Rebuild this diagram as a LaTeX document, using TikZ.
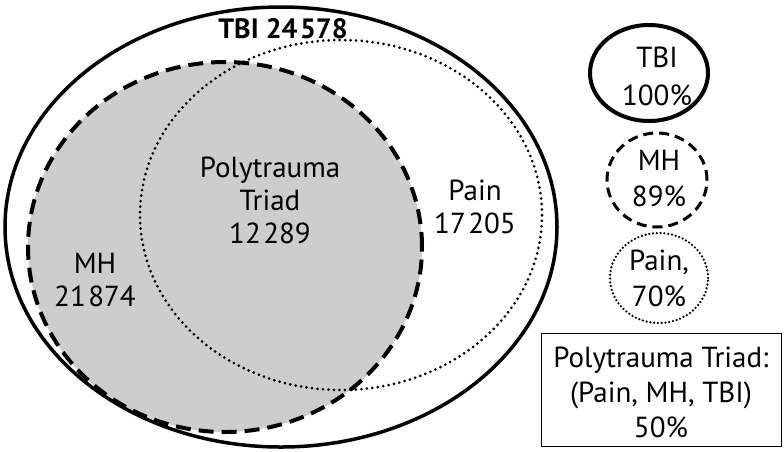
\documentclass[tikz,border=0pt]{standalone}
\usepackage{fontspec}
\setmainfont{PT Sans}
\usetikzlibrary{shapes.geometric}
\definecolor{venngray}{RGB}{205,205,205}
\newcommand{\numgap}{\kern2.5pt}
\tikzset{
  solidset/.style={draw=black,line width=3.5pt},
  dashset/.style={draw=black,line width=4pt,dash pattern=on 15pt off 8pt},
  dotset/.style={draw=black,line width=3pt,line cap=round,dash pattern=on 0pt off 5.5pt},
  lbl/.style={align=center,font=\fontsize{29}{33}\selectfont,inner sep=0pt},
}
\begin{document}
\begin{tikzpicture}[x=1pt,y=-1pt]
\useasboundingbox (0,0) rectangle (784,451);
% MH fill
\node[ellipse,inner sep=0pt,minimum width=394pt,minimum height=370pt,fill=venngray] (mhfill) at (225,247) {};
% outer TBI
\node[ellipse,inner sep=0pt,minimum width=552pt,minimum height=440pt,solidset] (tbi) at (281,227) {};
% Pain
\node[ellipse,inner sep=0pt,minimum width=402pt,minimum height=350pt,dotset] (pain) at (341,215) {};
% MH outline
\node[ellipse,inner sep=0pt,minimum width=394pt,minimum height=370pt,dashset] (mh) at (225,247) {};
% labels
\node[lbl,font=\fontsize{28}{33}\selectfont\bfseries] (tbilbl) at (283,29) {TBI 24\numgap578};
\node[lbl] (trilbl) at (270,200) {Polytrauma\\Triad\\12\numgap289};
\node[lbl] (painlbl) at (475,207) {Pain\\17\numgap205};
\node[lbl] (mhlbl) at (95,280) {MH\\21\numgap874};
% legend
\node[ellipse,inner sep=0pt,minimum width=118pt,minimum height=96pt,draw,line width=4pt] (legtbi) at (649,73) {};
\node[lbl,font=\fontsize{29}{38}\selectfont] (legtbit) at (657,76) {TBI\\ 100\%};
\node[ellipse,inner sep=0pt,minimum width=100pt,minimum height=94pt,draw,line width=3pt,dash pattern=on 10pt off 6pt] (legmh) at (657,180) {};
\node[lbl,font=\fontsize{29}{36}\selectfont] (legmht) at (659,179) {MH\\89\%};
\node[ellipse,inner sep=0pt,minimum width=98pt,minimum height=90pt,draw,line width=2.5pt,line cap=round,dash pattern=on 0pt off 3.8pt] (legpain) at (659,278) {};
\node[lbl,font=\fontsize{29}{36}\selectfont] (legpaint) at (659,278) {Pain,\\70\%};
\node[draw,line width=1pt,minimum width=240pt,minimum height=113pt,inner sep=0pt] (legbox) at (661,390) {};
\node[lbl,font=\fontsize{29}{35}\selectfont] (legboxt) at (661,392) {Polytrauma Triad:\\(Pain, MH, TBI)\\50\%};
\end{tikzpicture}
\end{document}
